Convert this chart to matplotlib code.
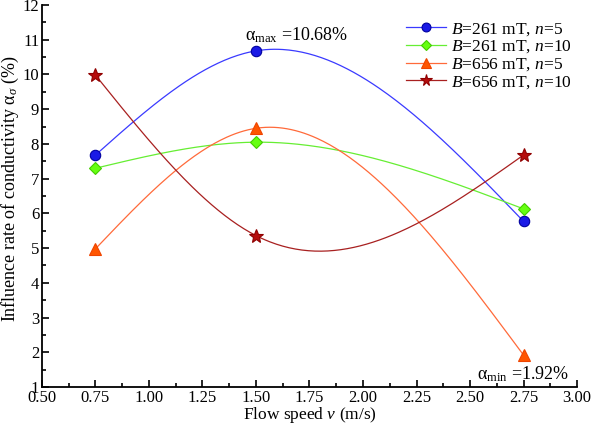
import numpy as np
import matplotlib
matplotlib.use("Agg")
import matplotlib.pyplot as plt
from matplotlib.ticker import MultipleLocator, FormatStrFormatter

plt.rcParams['font.family'] = ['Liberation Serif', 'DejaVu Serif']
plt.rcParams['mathtext.fontset'] = 'custom'
plt.rcParams['mathtext.rm'] = 'Liberation Serif'
plt.rcParams['mathtext.it'] = 'Liberation Serif:italic'
plt.rcParams['mathtext.bf'] = 'Liberation Serif:bold'

speeds = [0.75, 1.50, 2.75]
b261_n5 = [7.68, 10.68, 5.77]
b261_n10 = [7.30, 8.05, 6.13]
b656_n5 = [4.98, 8.45, 1.92]
b656_n10 = [9.98, 5.36, 7.68]
labels = [r"$B$=261 mT, $n$=5", r"$B$=261 mT, $n$=10",
          r"$B$=656 mT, $n$=5", r"$B$=656 mT, $n$=10"]


def natural_spline(x, y, num=200):
    x = np.asarray(x, float); y = np.asarray(y, float)
    n = len(x); h = np.diff(x)
    A = np.zeros((n, n)); r = np.zeros(n)
    A[0, 0] = 1; A[-1, -1] = 1
    for i in range(1, n - 1):
        A[i, i - 1] = h[i - 1]; A[i, i] = 2 * (h[i - 1] + h[i]); A[i, i + 1] = h[i]
        r[i] = 6 * ((y[i + 1] - y[i]) / h[i] - (y[i] - y[i - 1]) / h[i - 1])
    M = np.linalg.solve(A, r)
    xs = np.linspace(x[0], x[-1], num)
    ys = np.empty_like(xs)
    for k, xv in enumerate(xs):
        i = min(np.searchsorted(x, xv, side='right') - 1, n - 2)
        hi = h[i]; a = x[i + 1] - xv; b = xv - x[i]
        ys[k] = (M[i] * a**3 + M[i + 1] * b**3) / (6 * hi) + (y[i] / hi - M[i] * hi / 6) * a + (y[i + 1] / hi - M[i + 1] * hi / 6) * b
    return xs, ys


fig = plt.figure(figsize=(5.92, 4.25), dpi=100)
ax = fig.add_axes([0.0709, 0.0894, 0.9038, 0.8988])

styles = [
    dict(line='#3a3aff', mfc='#1a1ae6', mec='#0000a0', marker='o', ms=7.5),
    dict(line='#66ee33', mfc='#66ff11', mec='#44cc00', marker='D', ms=6.5),
    dict(line='#ff6a3a', mfc='#ff5500', mec='#ee4400', marker='^', ms=8.5),
    dict(line='#a82020', mfc='#b50d0d', mec='#900000', marker='*', ms=10),
]
series = [b261_n5, b261_n10, b656_n5, b656_n10]
for ys, st, lab in zip(series, styles, labels):
    xs_s, ys_s = natural_spline(speeds, ys)
    ax.plot(xs_s, ys_s, color=st['line'], lw=0.9)
    ax.plot(speeds, ys, linestyle='none', marker=st['marker'], ms=st['ms'],
            mfc=st['mfc'], mec=st['mec'], mew=0.8)
    ax.plot([], [], color=st['line'], lw=0.9, marker=st['marker'], ms=st['ms'] * 0.85,
            mfc=st['mfc'], mec=st['mec'], mew=0.8, label=lab)

ax.set_xlim(0.5, 3.0)
ax.set_ylim(1, 12)
ax.xaxis.set_major_locator(MultipleLocator(0.25))
ax.xaxis.set_minor_locator(MultipleLocator(0.125))
ax.yaxis.set_major_locator(MultipleLocator(1))
ax.yaxis.set_minor_locator(MultipleLocator(0.5))
ax.xaxis.set_major_formatter(FormatStrFormatter('%.2f'))
ax.tick_params(which='both', direction='in', labelsize=12, width=1.2)
ax.tick_params(which='major', length=5)
ax.tick_params(which='minor', length=3)
ax.tick_params(axis='x', pad=2)
ax.tick_params(axis='y', pad=2)
for s in ['top', 'right']:
    ax.spines[s].set_visible(False)
for s in ['left', 'bottom']:
    ax.spines[s].set_linewidth(1.3)

ax.set_xlabel(r"Flow speed $v$ (m/s)", fontsize=12.5)
ax.xaxis.set_label_coords(0.5, -0.047)
ax.xaxis.label.set_verticalalignment('top')
ax.set_ylabel(r"Influence rate of conductivity α$_{\sigma}$ (%)", fontsize=13)
ax.yaxis.set_label_coords(-0.039, 0.52)

ax.text(1.69, 11.13, r"α$_{\rm max}$ =10.68%", fontsize=13, ha='center', va='center')
ax.text(2.75, 1.37, r"α$_{\rm min}$ =1.92%", fontsize=13, ha='center', va='center')

ax.legend(loc='upper right', bbox_to_anchor=(1.01, 0.985), frameon=False, fontsize=12.5,
          handlelength=2.3, handletextpad=0.3, labelspacing=0.05, borderaxespad=0.2)

fig.savefig('out.png', dpi=100)
